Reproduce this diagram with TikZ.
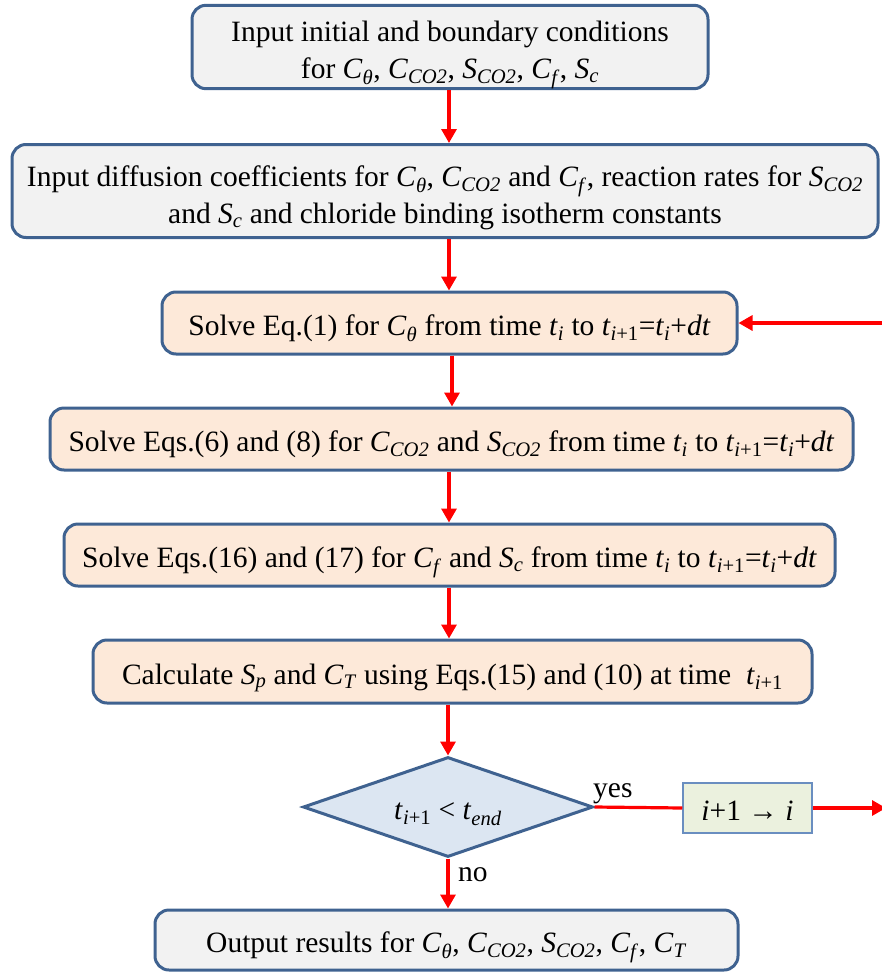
\documentclass[tikz,border=0pt]{standalone}
\usepackage{fontspec}
\setmainfont{Liberation Serif}
\usetikzlibrary{arrows.meta,shapes.geometric}
\definecolor{boxline}{HTML}{3F6290}
\definecolor{greyfill}{HTML}{F2F2F2}
\definecolor{peachfill}{HTML}{FDE9D9}
\definecolor{bluefill}{HTML}{DCE6F2}
\definecolor{greenfill}{HTML}{EBF1DE}
\definecolor{lightline}{HTML}{6A8EC0}
\newcommand{\vr}[2]{\textit{#1}\textsubscript{\textit{#2}}}
\newcommand{\tnext}{\textit{t}\textsubscript{\textit{i}+1}}
\newcommand{\tstep}{\textit{t}\textsubscript{\textit{i}} to \tnext=\textit{t}\textsubscript{\textit{i}}+\textit{dt}}

\begin{document}
\begin{tikzpicture}[x=1pt,y=-1pt,
  every node/.style={font=\fontsize{29.5}{37}\selectfont, inner sep=0pt, align=center},
  oneline/.style={text height=25pt, text depth=0pt},
  roundbox/.style={draw=boxline, line width=3pt, rounded corners=14pt},
  greybox/.style={roundbox, fill=greyfill},
  peachbox/.style={roundbox, fill=peachfill, oneline},
  redarrow/.style={red, line width=3.2pt, -{Triangle[length=14pt,width=15pt]}},
  redline/.style={red, line width=3.2pt}]
\useasboundingbox (0,0) rectangle (881,972);
% boxes
\node[greybox, minimum width=516pt, minimum height=81pt] (init) at (450,47)
  {\rule{0pt}{36pt}Input initial and boundary conditions\\ for \vr{C}{θ}, \vr{C}{CO2}, \vr{S}{CO2}, \vr{C}{f}, \vr{S}{c}};
\node[greybox, minimum width=866pt, minimum height=93pt] (coef) at (445,191)
  {\rule{0pt}{34pt}Input diffusion coefficients for \vr{C}{θ}, \vr{C}{CO2} and \vr{C}{f}, reaction rates for \vr{S}{CO2}\\ and \vr{S}{c} and chloride binding isotherm constants};
\node[peachbox, minimum width=575pt, minimum height=62pt] (eqone) at (449.5,323)
  {Solve Eq.(1) for \vr{C}{θ} from time \tstep};
\node[peachbox, minimum width=803pt, minimum height=62pt] (eqsix) at (451.5,439)
  {Solve Eqs.(6) and (8) for \vr{C}{CO2} and \vr{S}{CO2} from time \tstep};
\node[peachbox, minimum width=771pt, minimum height=62pt] (eqsixteen) at (449.5,555)
  {Solve Eqs.(16) and (17) for \vr{C}{f} and \vr{S}{c} from time \tstep};
\node[peachbox, minimum width=719pt, minimum height=63pt] (calc) at (452.5,671.5)
  {Calculate \vr{S}{p} and \vr{C}{T} using Eqs.(15) and (10) at time~~\tnext};
\node[draw=boxline, line width=3pt, fill=bluefill, diamond, aspect=2.9, oneline, minimum width=290pt, minimum height=100pt] (check) at (448,807)
  {\tnext\ < \textit{t}\textsubscript{\textit{end}}};
\node[draw=lightline, line width=1.5pt, fill=greenfill, oneline, minimum width=129pt, minimum height=50pt] (incr) at (747.5,808)
  {\textit{i}+1 → \textit{i}};
\node[greybox, oneline, minimum width=583pt, minimum height=60pt] (output) at (446.5,940)
  {Output results for \vr{C}{θ}, \vr{C}{CO2}, \vr{S}{CO2}, \vr{C}{f}, \vr{C}{T}};
% free ends at the right border
\coordinate (loopin) at (884,323);
\coordinate (loopout) at (886,808);
% connectors
\draw[redarrow] (init.south -| 449,0) -- (coef.north -| 449,0);
\draw[redarrow] (coef.south -| 449,0) -- (eqone.north -| 449,0);
\draw[redarrow] (eqone.south -| 452,0) -- (eqsix.north -| 452,0);
\draw[redarrow] (eqsix.south -| 449,0) -- (eqsixteen.north -| 449,0);
\draw[redarrow] (eqsixteen.south -| 449,0) -- (calc.north -| 449,0);
\draw[redarrow] (calc.south -| 448,0) -- (check.north);
\draw[redarrow] (check.south) -- (output.north -| 448,0);
\draw[redline] (check.east) -- (incr.west);
\draw[redarrow] (incr.east) -- (loopout);
\draw[redarrow] (loopin) -- (eqone.east);
% labels
\node[anchor=base west] (yes) at (593,797) {yes};
\node[anchor=base west] (no) at (458,881) {no};
\end{tikzpicture}
\end{document}
